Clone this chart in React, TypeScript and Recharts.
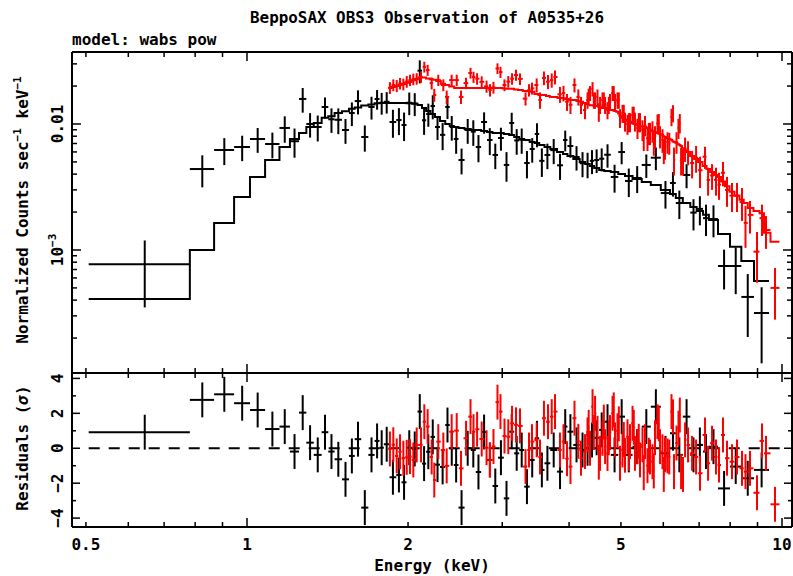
import React from "react";
import { ComposedChart, Line, Scatter, ErrorBar, XAxis, YAxis } from "recharts";

const FONT = "'DejaVu Sans Mono', monospace";
const RED = "#ff0000";
const AXIS = { stroke: "#000", strokeWidth: 2 };

// group 1 (black): channel bin edges (keV), rate, 1-sigma error, model, residual (sigma)
const blackEdges = [
  0.506, 0.782, 0.868, 0.946, 1.013, 1.081, 1.15, 1.203, 1.251, 1.291,
  1.333, 1.379, 1.419, 1.458, 1.505, 1.551, 1.59, 1.635, 1.686, 1.732,
  1.769, 1.802, 1.847, 1.901, 1.945, 1.987, 2.034, 2.083, 2.124, 2.162,
  2.203, 2.246, 2.295, 2.347, 2.393, 2.435, 2.485, 2.551, 2.62, 2.677,
  2.739, 2.81, 2.877, 2.946, 3.02, 3.091, 3.158, 3.227, 3.297, 3.376,
  3.45, 3.517, 3.598, 3.689, 3.798, 3.896, 3.972, 4.073, 4.187, 4.289,
  4.373, 4.455, 4.552, 4.653, 4.786, 4.943, 5.088, 5.256, 5.468, 5.686,
  5.936, 6.176, 6.332, 6.525, 6.739, 6.926, 7.119, 7.3, 7.593, 7.995,
  8.394, 8.865, 9.456,
];
const blackRate = [
  7.7e-4, 4.39e-3, 6.22e-3, 6.57e-3, 7.6e-3, 6.94e-3, 9.3e-3, 7.3e-3, 1.58e-2, 1.0e-2,
  9.47e-3, 1.364e-2, 1.09e-2, 1.08e-2, 8.96e-3, 1.223e-2, 1.52e-2, 7.88e-3, 1.364e-2, 1.579e-2,
  1.475e-2, 1.5e-2, 1.037e-2, 1.076e-2, 9.82e-3, 1.475e-2, 1.455e-2, 2.65e-2, 1.07e-2, 1.2e-2,
  1.389e-2, 9.47e-3, 8.2e-3, 1.364e-2, 9.47e-3, 7.6e-3, 5.18e-3, 8.96e-3, 8.7e-3, 6.57e-3,
  1.037e-2, 7.46e-3, 5.68e-3, 7.74e-3, 4.73e-3, 1.018e-2, 7.4e-3, 7.5e-3, 4.9e-3, 6.33e-3,
  8.33e-3, 5.1e-3, 5.68e-3, 6.2e-3, 4.7e-3, 7.46e-3, 6.69e-3, 5.47e-3, 4.88e-3, 4.81e-3,
  5.1e-3, 5.18e-3, 5.3e-3, 5.7e-3, 3.8e-3, 5.99e-3, 3.53e-3, 3.73e-3, 4.73e-3, 5.4e-3,
  2.83e-3, 3.4e-3, 2.36e-3, 3.94e-3, 1.98e-3, 2.12e-3, 1.79e-3, 1.76e-3, 7.46e-4, 7.46e-4,
  4.24e-4, 3.16e-4,
];
const blackErr = [
  4.2e-4, 1.25e-3, 1.5e-3, 1.5e-3, 1.7e-3, 1.6e-3, 2.2e-3, 1.9e-3, 3.5e-3, 2.2e-3,
  2.2e-3, 2.6e-3, 2.4e-3, 2.5e-3, 2.0e-3, 2.6e-3, 3.3e-3, 1.85e-3, 2.8e-3, 2.8e-3,
  2.9e-3, 2.9e-3, 2.6e-3, 2.6e-3, 2.5e-3, 3.0e-3, 3.0e-3, 5.5e-3, 2.5e-3, 2.5e-3,
  3.0e-3, 2.0e-3, 2.0e-3, 2.7e-3, 2.1e-3, 1.8e-3, 1.2e-3, 2.0e-3, 2.0e-3, 1.6e-3,
  2.0e-3, 1.8e-3, 1.3e-3, 1.6e-3, 1.25e-3, 2.1e-3, 1.7e-3, 1.7e-3, 1.2e-3, 1.4e-3,
  1.8e-3, 1.3e-3, 1.3e-3, 1.4e-3, 1.1e-3, 1.4e-3, 1.3e-3, 1.2e-3, 1.1e-3, 1.1e-3,
  1.1e-3, 1.1e-3, 1.1e-3, 1.2e-3, 9.5e-4, 1.2e-3, 9e-4, 9e-4, 1.0e-3, 1.1e-3,
  7e-4, 7.5e-4, 6e-4, 8.5e-4, 5.5e-4, 5.5e-4, 5e-4, 5e-4, 2.6e-4, 3e-4,
  2.2e-4, 1.9e-4,
];
const blackModel = [
  4.08e-4, 1.0e-3, 1.64e-3, 2.63e-3, 3.8e-3, 5.18e-3, 6.57e-3, 7.6e-3, 8.48e-3, 9.47e-3,
  1.018e-2, 1.12e-2, 1.15e-2, 1.22e-2, 1.26e-2, 1.32e-2, 1.35e-2, 1.4e-2, 1.43e-2, 1.46e-2,
  1.47e-2, 1.47e-2, 1.47e-2, 1.47e-2, 1.47e-2, 1.46e-2, 1.45e-2, 1.415e-2, 1.339e-2, 1.27e-2,
  1.2e-2, 1.136e-2, 1.056e-2, 1.0e-2, 9.64e-3, 9.47e-3, 9.3e-3, 9.13e-3, 8.96e-3, 8.96e-3,
  8.8e-3, 8.64e-3, 8.48e-3, 8.48e-3, 8.33e-3, 8.18e-3, 7.88e-3, 7.6e-3, 7.46e-3, 7.2e-3,
  7.07e-3, 6.81e-3, 6.57e-3, 6.33e-3, 5.99e-3, 5.78e-3, 5.57e-3, 5.28e-3, 4.99e-3, 4.81e-3,
  4.64e-3, 4.48e-3, 4.32e-3, 4.24e-3, 4.16e-3, 4.01e-3, 3.87e-3, 3.66e-3, 3.46e-3, 3.28e-3,
  2.99e-3, 2.78e-3, 2.59e-3, 2.36e-3, 2.19e-3, 2.04e-3, 1.9e-3, 1.73e-3, 1.34e-3, 1.06e-3,
  8.18e-4, 5.68e-4,
];
const blackResid = [
  0.92, 2.77, 3.09, 2.58, 2.19, 1.1, 1.24, -0.19, 2.04, 0.32,
  -0.38, 0.92, -0.19, -0.63, -1.78, -0.44, 0.52, -3.4, -0.38, 0.42,
  0.03, 0.23, -1.66, -1.53, -1.95, 0.03, -0.04, 2.1, -0.88, -0.2,
  0.65, -0.94, -1.07, 1.33, 0, -0.96, -3.4, 0, -0.1, -1.36,
  0.93, -0.67, -2.16, -0.54, -2.87, 0.95, -0.29, -0.1, -2.2, -0.67,
  0.57, -1.24, -0.86, -0.1, -1.34, 1.24, 0.95, 0.19, -0.1, 0,
  0.47, 0.6, 1.05, 1.52, -0.38, 1.81, -0.38, 0.09, 1.24, 2.38,
  -0.29, 0.86, -0.38, 1.81, -0.38, 0.19, -0.19, 0.09, -2.3, -1.05,
  -1.72, -1.24,
];

// group 2 (red): channel energies (keV), rate, 1-sigma error, model, residual (sigma)
const redEnergy = [
  1.85, 1.877, 1.905, 1.932, 1.96, 1.989, 2.017, 2.046, 2.076, 2.115,
  2.145, 2.176, 2.214, 2.239, 2.278, 2.328, 2.362, 2.413, 2.466, 2.512,
  2.567, 2.617, 2.651, 2.692, 2.746, 2.804, 2.846, 2.889, 2.939, 2.977,
  3.029, 3.079, 3.129, 3.183, 3.238, 3.316, 3.366, 3.41,
  3.479, 3.529, 3.59, 3.653, 3.712, 3.765, 3.846, 3.905, 3.964, 4.024,
  4.094, 4.162, 4.21, 4.283, 4.33, 4.352, 4.377, 4.425, 4.449, 4.473,
  4.52, 4.546, 4.57, 4.619, 4.645, 4.67, 4.719, 4.746, 4.77, 4.822,
  4.848, 4.874, 4.926, 4.955, 4.98, 5.034, 5.062, 5.088, 5.143, 5.172,
  5.199, 5.256, 5.284, 5.311, 5.369, 5.399, 5.427, 5.486, 5.516, 5.545,
  5.605, 5.636, 5.666, 5.727, 5.76, 5.789, 5.852, 5.885, 5.916, 5.979,
  6.013, 6.044, 6.109, 6.156, 6.215, 6.256, 6.283, 6.351, 6.405, 6.442,
  6.477, 6.531, 6.589, 6.674, 6.791, 6.909, 7.027, 7.18, 7.275, 7.4,
  7.527, 7.625, 7.758, 7.893, 8.064, 8.239, 8.418, 8.546, 8.713, 8.98,
  9.176, 9.335, 9.703,
];
const redRate = [
  0.0194, 0.0204, 0.0201, 0.021, 0.0207, 0.0217, 0.0223, 0.0227, 0.0229, 0.0236,
  0.0284, 0.0268, 0.0211, 0.017, 0.0223, 0.0204, 0.0164, 0.0223, 0.0223, 0.0164,
  0.0211, 0.0254, 0.0236, 0.0229, 0.0216, 0.0199, 0.0186, 0.0195, 0.0276, 0.0258,
  0.0204, 0.0217, 0.0229, 0.0245, 0.0228, 0.0159, 0.0186, 0.0192,
  0.0204, 0.0155, 0.0232, 0.0217, 0.0223, 0.0236, 0.0172, 0.0176, 0.015, 0.0142,
  0.0204, 0.0164, 0.0142, 0.0129, 0.0155, 0.0168, 0.0176, 0.019, 0.0155, 0.0155,
  0.0164, 0.0125, 0.0142, 0.0155, 0.0155, 0.0142, 0.0129, 0.0142, 0.015, 0.0176,
  0.0176, 0.015, 0.0155, 0.0155, 0.0112, 0.0122, 0.0122, 0.0105, 0.01, 0.0104,
  0.0104, 0.0118, 0.0118, 0.0105, 0.0093, 0.0104, 0.0104, 0.009, 0.0077, 0.0098,
  0.0077, 0.0085, 0.0085, 0.0088, 0.0071, 0.008, 0.0101, 0.0102, 0.008, 0.0075,
  0.0062, 0.0066, 0.0072, 0.0071, 0.0114, 0.0122, 0.0052, 0.0072, 0.0093, 0.0102,
  0.0052, 0.0052, 0.0064, 0.006, 0.0049, 0.0054, 0.0043, 0.0055, 0.0036, 0.0039,
  0.0036, 0.0033, 0.0041, 0.003, 0.0027, 0.0027, 0.0024, 0.00164, 0.0019, 0.00097,
  0.00179, 0.00144, 0.0005,
];
const redErr = [
  0.0021, 0.0022, 0.0022, 0.0022, 0.0022, 0.0023, 0.0023, 0.0024, 0.0024, 0.0024,
  0.0028, 0.0027, 0.0023, 0.002, 0.0023, 0.0022, 0.002, 0.0023, 0.0023, 0.002,
  0.0022, 0.0025, 0.0024, 0.0024, 0.0023, 0.0022, 0.0021, 0.0021, 0.0027, 0.0026,
  0.0022, 0.0023, 0.0024, 0.0025, 0.0024, 0.0019, 0.0021, 0.0021,
  0.0026, 0.0023, 0.0029, 0.0028, 0.0029, 0.003, 0.0025, 0.0025, 0.0023, 0.0022,
  0.0026, 0.0024, 0.0022, 0.002, 0.0023, 0.0023, 0.0024, 0.0025, 0.0023, 0.0023,
  0.0024, 0.0021, 0.0022, 0.0023, 0.0023, 0.0022, 0.002, 0.0022, 0.0023, 0.0024,
  0.0024, 0.0023, 0.0023, 0.0023, 0.0019, 0.002, 0.002, 0.0018, 0.0018, 0.0018,
  0.0018, 0.0019, 0.0019, 0.0018, 0.0017, 0.0018, 0.0018, 0.0017, 0.0016, 0.0018,
  0.0016, 0.0017, 0.0017, 0.0017, 0.0015, 0.0016, 0.0018, 0.0018, 0.0016, 0.0016,
  0.0014, 0.0014, 0.0014, 0.0014, 0.0018, 0.0019, 0.0013, 0.0014, 0.0017, 0.0018,
  0.0013, 0.0013, 0.0014, 0.0013, 0.0012, 0.0013, 0.0012, 0.0011, 0.0009, 0.0009,
  0.0009, 0.0008, 0.0009, 0.0008, 0.0007, 0.0007, 0.0007, 0.0006, 0.00055, 0.00042,
  0.0005, 0.00042, 0.00022,
];
const redModel = [
  0.0193, 0.0197, 0.02, 0.0204, 0.0208, 0.0212, 0.0215, 0.0222, 0.0227, 0.0234,
  0.0234, 0.023, 0.0226, 0.0224, 0.0219, 0.0209, 0.0204, 0.0198, 0.0193, 0.0193,
  0.0193, 0.0193, 0.0193, 0.0193, 0.0193, 0.0193, 0.0193, 0.0193, 0.0193, 0.0193,
  0.0191, 0.019, 0.019, 0.0188, 0.0186, 0.0183, 0.0182, 0.018,
  0.0173, 0.017, 0.017, 0.0167, 0.0164, 0.0164, 0.0161, 0.016, 0.0158, 0.0155,
  0.0155, 0.0152, 0.015, 0.0147, 0.0144, 0.0143, 0.0141, 0.0141, 0.014, 0.0139,
  0.0139, 0.0137, 0.0136, 0.0134, 0.0134, 0.0134, 0.0131, 0.013, 0.0129, 0.0129,
  0.0128, 0.0127, 0.0125, 0.0121, 0.0116, 0.0112, 0.011, 0.0108, 0.0106, 0.0105,
  0.0104, 0.0102, 0.0101, 0.01, 0.0098, 0.0097, 0.0096, 0.0096, 0.0095, 0.0095,
  0.0093, 0.0091, 0.009, 0.0088, 0.0087, 0.0086, 0.0085, 0.0084, 0.0083, 0.0082,
  0.008, 0.0079, 0.0077, 0.0076, 0.0075, 0.0073, 0.0072, 0.0071, 0.0069, 0.0068,
  0.0067, 0.0064, 0.0062, 0.006, 0.00557, 0.00528, 0.005, 0.00464, 0.0044, 0.00416,
  0.00394, 0.0038, 0.0035, 0.0032, 0.0029, 0.0027, 0.0025, 0.00236, 0.00215, 0.00204,
  0.00196, 0.00137, 0.00116,
];
const redResid = [
  -0.04, 0.2, -0.44, -0.2, -0.57, -0.52, -0.48, -0.67, 0.19, 0.19,
  1.52, 1.24, -0.5, -1.82, 0.38, -0.1, -1.01, 0.95, 1.01, -1.15,
  0.57, 1.81, 0.95, 1.09, 0.53, 0.03, -0.67, 0.1, 2.64, 2.1,
  0.7, 0.66, 1.43, 1.34, 1.28, -1.05, -0.1, 0.38,
  0.48, -0.5, 1.72, 1.52, 1.81, 2.1, -0.1, 0.38, -0.6, -1.05,
  1.72, 0.4, -0.57, -0.19, 0.76, 1.2, 0, 2.38, 0.9, 2.0,
  0.86, -0.8, -0.29, 0.57, 1.5, 0.09, -0.3, 0.6, 0.9, 2.0,
  2.2, 0.48, 1.0, 1.4, -0.86, -0.1, 0.5, -0.4, 0.66, -0.3,
  0.38, 1.43, 1.2, -0.29, 0.09, 0.4, -0.67, 0.2, -1.4, 0.38,
  -1.0, -0.4, -0.5, -0.77, -1.3, 0.6, 1.52, 1.4, 0.09, -0.2,
  -1.5, -0.38, -0.44, -0.5, 2.1, 1.8, -1.34, 0.3, 1.15, 1.9,
  -1.34, -1.5, 0.48, 0.19, -0.29, -0.5, -1.43, 0.76, -0.86, 0.29,
  -0.5, -0.96, 0.76, -0.57, -0.77, -0.5, -1.15, -1.34, -1.15, -2.55,
  0.42, -0.29, -3.21,
];

// axes
const energyTicks = [0.5, 0.6, 0.7, 0.8, 0.9, 1, 2, 3, 4, 5, 6, 7, 8, 9, 10];
const energyLabels = [0.5, 1, 2, 5, 10];
const energyMajor = [1, 10];
const rateTicks = [
  2e-4, 3e-4, 4e-4, 5e-4, 6e-4, 7e-4, 8e-4, 9e-4, 1e-3,
  2e-3, 3e-3, 4e-3, 5e-3, 6e-3, 7e-3, 8e-3, 9e-3, 0.01, 0.02, 0.03,
];
const residTicks = [-4, -3, -2, -1, 0, 1, 2, 3, 4];
const zeroLine = [0.506, 9.9];

const xDomain = [0.4709, 10.44];
const rateDomain = [1.056e-4, 0.03727];
const residDomain = [-4.51, 4.31];

// build chart rows
const blackPts = blackRate.map((c, i) => {
  const lo = blackEdges[i];
  const hi = blackEdges[i + 1];
  const e = (lo + hi) / 2;
  return { e, c, ce: blackErr[i], r: blackResid[i], re: 1, xe: [e - lo, hi - e] };
});

const redEdges = redEnergy.map((e, i) =>
  i === 0 ? e * Math.sqrt(e / redEnergy[1]) : Math.sqrt(redEnergy[i - 1] * e)
);
{
  const n = redEnergy.length;
  const last = redEnergy[n - 1];
  redEdges.push(last * Math.sqrt(last / redEnergy[n - 2]));
}

const redPts = redRate.map((c, i) => {
  const e = redEnergy[i];
  return { e, c, ce: redErr[i], r: redResid[i], re: 1, xe: [e - redEdges[i], redEdges[i + 1] - e] };
});

function steps(edges: number[], model: number[]) {
  const pts = model.map((m, i) => ({ e: edges[i], m }));
  pts.push({ e: edges[edges.length - 1], m: model[model.length - 1] });
  return pts;
}
const blackSteps = steps(blackEdges, blackModel);
const redSteps = steps(redEdges, redModel);
const zeroData = zeroLine.map((e) => ({ e, z: 0 }));

const noShape = () => <g />;

const labelText = { fontFamily: FONT, fontWeight: "bold" as const, fontSize: 16, fill: "#000" };

const EnergyTick = (props: any) => {
  const { x, y, payload, dir, labelled } = props;
  const v = payload.value;
  const len = energyMajor.includes(v) ? 9 : 5;
  return (
    <g>
      <line x1={x} x2={x} y1={y} y2={y + dir * len} stroke="#000" strokeWidth={1.5} />
      {labelled && energyLabels.includes(v) && (
        <text x={x} y={y + 23} textAnchor="middle" {...labelText}>
          {v}
        </text>
      )}
    </g>
  );
};

const RateTick = (props: any) => {
  const { x, y, payload, dir, labelled } = props;
  const v = payload.value;
  const ex = Math.round(Math.log10(v));
  const major = Math.abs(Math.log10(v) - ex) < 1e-9;
  const len = major ? 9 : 5;
  const lx = x - 9;
  return (
    <g>
      <line x1={x} x2={x + dir * len} y1={y} y2={y} stroke="#000" strokeWidth={1.5} />
      {labelled && major && (
        <text x={lx} y={y} transform={`rotate(-90 ${lx} ${y})`} textAnchor="middle" {...labelText}>
          {ex === -2 ? (
            "0.01"
          ) : (
            <>
              10
              <tspan dy={-7} fontSize={11}>
                {"\u2212" + -ex}
              </tspan>
            </>
          )}
        </text>
      )}
    </g>
  );
};

const ResidTick = (props: any) => {
  const { x, y, payload, dir, labelled } = props;
  const v = payload.value;
  const major = v % 2 === 0;
  const len = major ? 8 : 4;
  const lx = x - 9;
  return (
    <g>
      <line x1={x} x2={x + dir * len} y1={y} y2={y} stroke="#000" strokeWidth={1.5} />
      {labelled && major && (
        <text x={lx} y={y} transform={`rotate(-90 ${lx} ${y})`} textAnchor="middle" {...labelText}>
          {v < 0 ? "\u2212" + -v : String(v)}
        </text>
      )}
    </g>
  );
};

// axes get a 1px box (a zero-sized axis is not drawn); margins are trimmed by the same amount
const xAxisCommon = {
  dataKey: "e",
  type: "number" as const,
  scale: "log" as const,
  domain: xDomain,
  allowDataOverflow: true,
  ticks: energyTicks,
  interval: 0,
  height: 1,
  tickSize: 0,
  tickMargin: 0,
  axisLine: AXIS,
  tickLine: false,
};
const yAxisCommon = {
  type: "number" as const,
  allowDataOverflow: true,
  interval: 0,
  width: 1,
  tickSize: 0,
  tickMargin: 0,
  axisLine: AXIS,
  tickLine: false,
};

export default function App() {
  return (
    <div style={{ position: "relative", width: 793, height: 576, background: "#fff", overflow: "hidden" }}>
      <style>{"body{margin:0}"}</style>

      <div style={{ position: "absolute", left: 0, top: 0 }}>
        <ComposedChart width={793} height={380} margin={{ top: 51, right: 0, bottom: 6, left: 71 }}>
          <XAxis {...xAxisCommon} tick={(p: any) => <EnergyTick {...p} dir={-1} />} />
          <XAxis {...xAxisCommon} xAxisId="top" orientation="top" tick={(p: any) => <EnergyTick {...p} dir={1} />} />
          <YAxis
            {...yAxisCommon}
            dataKey="c"
            scale="log"
            domain={rateDomain}
            ticks={rateTicks}
            tick={(p: any) => <RateTick {...p} dir={1} labelled />}
          />
          <YAxis
            {...yAxisCommon}
            yAxisId="right"
            orientation="right"
            scale="log"
            domain={rateDomain}
            ticks={rateTicks}
            tick={(p: any) => <RateTick {...p} dir={-1} />}
          />
          <Scatter data={blackPts} dataKey="c" shape={noShape} isAnimationActive={false}>
            <ErrorBar dataKey="ce" direction="y" width={0} stroke="#000" strokeWidth={2} isAnimationActive={false} />
            <ErrorBar dataKey="xe" direction="x" width={0} stroke="#000" strokeWidth={2} isAnimationActive={false} />
          </Scatter>
          <Line data={blackSteps} dataKey="m" type="stepAfter" stroke="#000" strokeWidth={2} dot={false} isAnimationActive={false} />
          <Scatter data={redPts} dataKey="c" shape={noShape} isAnimationActive={false}>
            <ErrorBar dataKey="ce" direction="y" width={0} stroke={RED} strokeWidth={2} isAnimationActive={false} />
            <ErrorBar dataKey="xe" direction="x" width={0} stroke={RED} strokeWidth={2} isAnimationActive={false} />
          </Scatter>
          <Line data={redSteps} dataKey="m" type="stepAfter" stroke={RED} strokeWidth={2} dot={false} isAnimationActive={false} />
        </ComposedChart>
      </div>

      <div style={{ position: "absolute", left: 0, top: 366 }}>
        <ComposedChart width={793} height={210} margin={{ top: 6, right: 0, bottom: 48, left: 71 }}>
          <XAxis {...xAxisCommon} tick={(p: any) => <EnergyTick {...p} dir={-1} labelled />} />
          <XAxis {...xAxisCommon} xAxisId="top" orientation="top" tick={(p: any) => <EnergyTick {...p} dir={1} />} />
          <YAxis
            {...yAxisCommon}
            dataKey="r"
            domain={residDomain}
            ticks={residTicks}
            tick={(p: any) => <ResidTick {...p} dir={1} labelled />}
          />
          <YAxis
            {...yAxisCommon}
            yAxisId="right"
            orientation="right"
            domain={residDomain}
            ticks={residTicks}
            tick={(p: any) => <ResidTick {...p} dir={-1} />}
          />
          <Scatter data={blackPts} dataKey="r" shape={noShape} isAnimationActive={false}>
            <ErrorBar dataKey="re" direction="y" width={0} stroke="#000" strokeWidth={2} isAnimationActive={false} />
            <ErrorBar dataKey="xe" direction="x" width={0} stroke="#000" strokeWidth={2} isAnimationActive={false} />
          </Scatter>
          <Line data={zeroData} dataKey="z" stroke="#000" strokeWidth={2} strokeDasharray="11 9" dot={false} isAnimationActive={false} />
          <Scatter data={redPts} dataKey="r" shape={noShape} isAnimationActive={false}>
            <ErrorBar dataKey="re" direction="y" width={0} stroke={RED} strokeWidth={2} isAnimationActive={false} />
            <ErrorBar dataKey="xe" direction="x" width={0} stroke={RED} strokeWidth={2} isAnimationActive={false} />
          </Scatter>
        </ComposedChart>
      </div>

      <svg width={793} height={576} style={{ position: "absolute", left: 0, top: 0, pointerEvents: "none" }}>
        <text x={427} y={23} textAnchor="middle" textLength={354} lengthAdjust="spacingAndGlyphs" {...labelText}>
          BeppoSAX OBS3 Observation of A0535+26
        </text>
        <text x={72} y={45} {...labelText}>
          model: wabs pow
        </text>
        <text x={432} y={571} textAnchor="middle" {...labelText}>
          Energy (keV)
        </text>
        <text x={28} y={210} transform="rotate(-90 28 210)" textAnchor="middle" {...labelText}>
          Normalized Counts sec
          <tspan dy={-7} fontSize={11}>
            {"\u22121"}
          </tspan>
          <tspan dy={7}> keV</tspan>
          <tspan dy={-7} fontSize={11}>
            {"\u22121"}
          </tspan>
        </text>
        <text x={28} y={448} transform="rotate(-90 28 448)" textAnchor="middle" {...labelText}>
          Residuals (<tspan fontStyle="italic">σ</tspan>)
        </text>
      </svg>
    </div>
  );
}
